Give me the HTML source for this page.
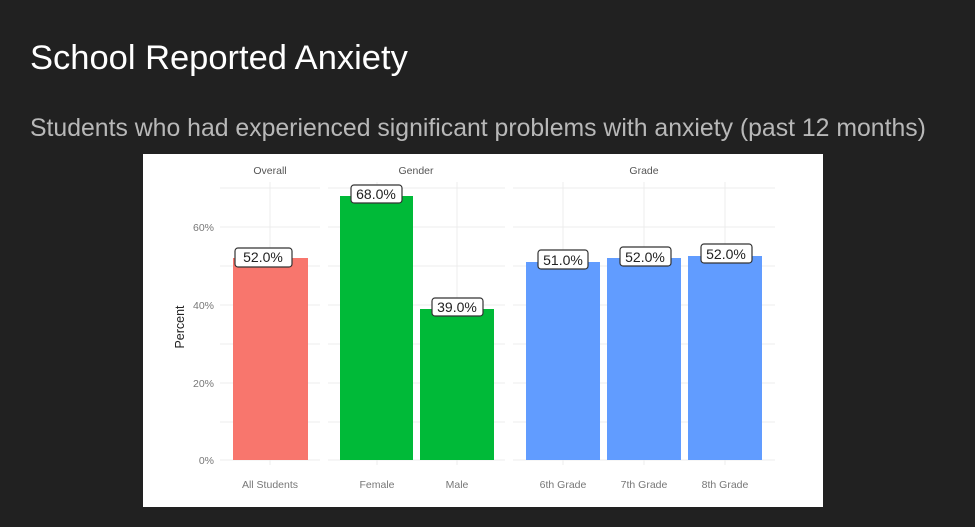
<!DOCTYPE html>
<html><head><style>
body{margin:0;background:#212121;width:975px;height:527px;overflow:hidden;font-family:"Liberation Sans",sans-serif;}
.t{position:absolute;left:30px;top:39px;color:#fff;font-size:34.5px;}
.s{position:absolute;left:30px;top:115px;color:#b8b8b8;font-size:24.8px;}
</style></head><body>
<div class="t">School Reported Anxiety</div>
<div class="s">Students who had experienced significant problems with anxiety (past 12 months)</div>
<svg style="position:absolute;left:0;top:0" width="975" height="527" font-family="Liberation Sans, sans-serif">
<rect x="143" y="154" width="680" height="353" fill="#fff"/>
<g stroke="#ececec" stroke-width="1">
<line x1="220" x2="320" y1="188" y2="188"/><line x1="220" x2="320" y1="227" y2="227"/><line x1="220" x2="320" y1="266" y2="266"/><line x1="220" x2="320" y1="305" y2="305"/><line x1="220" x2="320" y1="344" y2="344"/><line x1="220" x2="320" y1="383" y2="383"/><line x1="220" x2="320" y1="422" y2="422"/><line x1="220" x2="320" y1="460" y2="460"/>
<line x1="270" x2="270" y1="182" y2="465"/>
<line x1="328" x2="505" y1="188" y2="188"/><line x1="328" x2="505" y1="227" y2="227"/><line x1="328" x2="505" y1="266" y2="266"/><line x1="328" x2="505" y1="305" y2="305"/><line x1="328" x2="505" y1="344" y2="344"/><line x1="328" x2="505" y1="383" y2="383"/><line x1="328" x2="505" y1="422" y2="422"/><line x1="328" x2="505" y1="460" y2="460"/>
<line x1="377" x2="377" y1="182" y2="465"/><line x1="457" x2="457" y1="182" y2="465"/>
<line x1="513" x2="775" y1="188" y2="188"/><line x1="513" x2="775" y1="227" y2="227"/><line x1="513" x2="775" y1="266" y2="266"/><line x1="513" x2="775" y1="305" y2="305"/><line x1="513" x2="775" y1="344" y2="344"/><line x1="513" x2="775" y1="383" y2="383"/><line x1="513" x2="775" y1="422" y2="422"/><line x1="513" x2="775" y1="460" y2="460"/>
<line x1="563" x2="563" y1="182" y2="465"/><line x1="644" x2="644" y1="182" y2="465"/><line x1="725" x2="725" y1="182" y2="465"/>
</g>
<rect x="233" y="258" width="75" height="202" fill="#f8766d"/>
<rect x="340" y="196" width="73" height="264" fill="#00ba38"/>
<rect x="420" y="309" width="74" height="151" fill="#00ba38"/>
<rect x="526" y="262" width="74" height="198" fill="#619cff"/>
<rect x="607" y="258" width="74" height="202" fill="#619cff"/>
<rect x="688" y="256" width="74" height="204" fill="#619cff"/>
<g fill="#fff" stroke="#333" stroke-width="1.2">
<rect x="235" y="248" width="57" height="19" rx="3"/>
<rect x="351" y="185" width="51" height="18" rx="3"/>
<rect x="432" y="298" width="51" height="18" rx="3"/>
<rect x="538" y="250" width="50" height="19" rx="3"/>
<rect x="620" y="247" width="51" height="19" rx="3"/>
<rect x="701" y="244" width="51" height="19" rx="3"/>
</g>
<g font-size="14" fill="#222" text-anchor="middle">
<text x="263" y="262">52.0%</text><text x="376" y="199">68.0%</text><text x="457" y="312">39.0%</text>
<text x="563" y="265">51.0%</text><text x="645" y="262">52.0%</text><text x="726" y="259">52.0%</text>
</g>
<g font-size="10.5" fill="#555" text-anchor="middle">
<text x="270" y="174">Overall</text><text x="416" y="174">Gender</text><text x="644" y="174">Grade</text>
</g>
<g font-size="10.5" fill="#777" text-anchor="middle">
<text x="270" y="488">All Students</text><text x="377" y="488">Female</text><text x="457" y="488">Male</text>
<text x="563" y="488">6th Grade</text><text x="644" y="488">7th Grade</text><text x="725" y="488">8th Grade</text>
</g>
<g font-size="10.5" fill="#777" text-anchor="end">
<text x="214" y="231">60%</text><text x="214" y="309">40%</text><text x="214" y="387">20%</text><text x="214" y="464">0%</text>
</g>
<text transform="translate(184,327) rotate(-90)" font-size="12.5" fill="#222" text-anchor="middle">Percent</text>
</svg>
</body></html>
